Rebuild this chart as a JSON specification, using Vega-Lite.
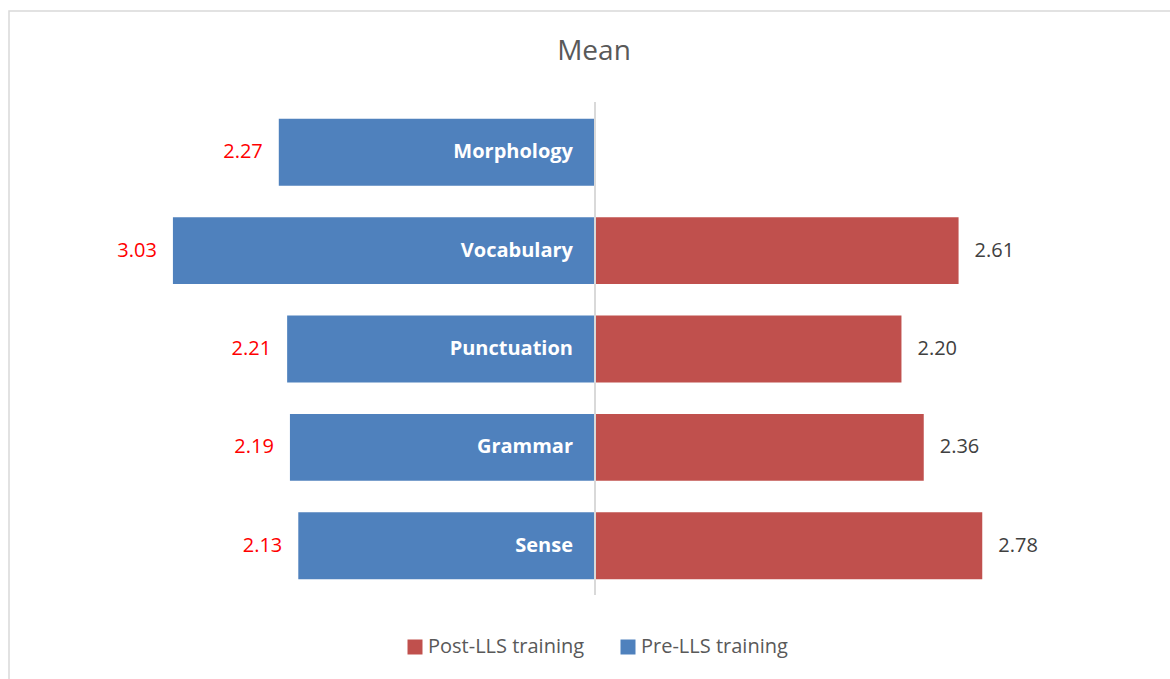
{
  "$schema": "https://vega.github.io/schema/vega-lite/v6.json",
  "autosize": {"type": "none"},
  "width": 1170,
  "height": 680,
  "padding": {"left": 9, "top": 11, "right": 0, "bottom": 0},
  "background": "white",
  "config": {
    "view": {"stroke": "#D9D9D9", "strokeWidth": 1.5},
    "font": "Open Sans"
  },
  "title": {
    "text": "Mean",
    "font": "Open Sans",
    "fontSize": 28,
    "fontWeight": "normal",
    "color": "#595959",
    "anchor": "middle",
    "offset": 0,
    "dy": 55
  },
  "data": {
    "values": [
      {"aspect": "Morphology", "series": "Pre-LLS training", "mean": 2.27},
      {"aspect": "Vocabulary", "series": "Pre-LLS training", "mean": 3.03},
      {"aspect": "Punctuation", "series": "Pre-LLS training", "mean": 2.21},
      {"aspect": "Grammar", "series": "Pre-LLS training", "mean": 2.19},
      {"aspect": "Sense", "series": "Pre-LLS training", "mean": 2.13},
      {"aspect": "Vocabulary", "series": "Post-LLS training", "mean": 2.61},
      {"aspect": "Punctuation", "series": "Post-LLS training", "mean": 2.20},
      {"aspect": "Grammar", "series": "Post-LLS training", "mean": 2.36},
      {"aspect": "Sense", "series": "Post-LLS training", "mean": 2.78}
    ]
  },
  "layer": [
    {
      "transform": [{"filter": "datum.series === 'Pre-LLS training'"}],
      "encoding": {
        "y": {
          "field": "aspect",
          "type": "nominal",
          "axis": null,
          "scale": {
            "domain": ["Morphology", "Vocabulary", "Punctuation", "Grammar", "Sense"],
            "range": [92, 584],
            "paddingInner": 0.32,
            "paddingOuter": 0.16
          }
        }
      },
      "layer": [
        {
          "mark": {"type": "bar"},
          "encoding": {
            "x": {"field": "mean", "type": "quantitative", "axis": null,
                  "scale": {"domain": [0, 4], "range": [586, 28.8], "zero": true, "nice": false}},
            "color": {
              "field": "series",
              "type": "nominal",
              "scale": {"domain": ["Post-LLS training", "Pre-LLS training"], "range": ["#C0504D", "#4F81BD"]},
              "legend": {
                "title": null,
                "orient": "none",
                "direction": "horizontal",
                "legendX": 396,
                "legendY": 626,
                "padding": 0,
                "symbolType": "square",
                "symbolSize": 225,
                "symbolStrokeWidth": 0,
                "labelFont": "Open Sans",
                "labelFontSize": 20,
                "labelColor": "#595959",
                "labelOffset": 3,
                "columnPadding": 33,
                "labelLimit": 300
              }
            }
          }
        },
        {
          "mark": {"type": "text", "align": "right", "baseline": "middle", "dx": -16, "font": "Open Sans", "fontSize": 20, "color": "#FF0000"},
          "encoding": {
            "x": {"field": "mean", "type": "quantitative"},
            "text": {"field": "mean", "type": "quantitative", "format": ".2f"}
          }
        },
        {
          "mark": {"type": "text", "align": "right", "baseline": "middle", "dx": -22, "font": "Open Sans", "fontSize": 20, "fontWeight": "bold", "color": "white"},
          "encoding": {
            "x": {"datum": 0, "type": "quantitative"},
            "text": {"field": "aspect", "type": "nominal"}
          }
        }
      ]
    },
    {
      "transform": [{"filter": "datum.series === 'Post-LLS training'"}],
      "encoding": {
        "y": {
          "field": "aspect",
          "type": "nominal",
          "axis": null,
          "scale": {
            "domain": ["Morphology", "Vocabulary", "Punctuation", "Grammar", "Sense"],
            "range": [92, 584],
            "paddingInner": 0.32,
            "paddingOuter": 0.16
          }
        }
      },
      "layer": [
        {
          "mark": {"type": "bar"},
          "encoding": {
            "x": {"field": "mean", "type": "quantitative", "axis": null,
                  "scale": {"domain": [0, 4], "range": [586, 1143.2], "zero": true, "nice": false}},
            "color": {"field": "series", "type": "nominal"}
          }
        },
        {
          "mark": {"type": "text", "align": "left", "baseline": "middle", "dx": 16, "font": "Open Sans", "fontSize": 20, "color": "#404040"},
          "encoding": {
            "x": {"field": "mean", "type": "quantitative"},
            "text": {"field": "mean", "type": "quantitative", "format": ".2f"}
          }
        }
      ]
    },
    {
      "data": {"values": [{"edge": "centre"}]},
      "mark": {"type": "rule", "color": "#D9D9D9", "strokeWidth": 2},
      "encoding": {
        "x": {"datum": 0, "type": "quantitative", "axis": null,
              "scale": {"domain": [0, 4], "range": [586, 1143.2], "nice": false}},
        "y": {"datum": 0, "type": "quantitative", "axis": null,
              "scale": {"domain": [0, 1], "range": [91, 584], "nice": false}},
        "y2": {"datum": 1}
      }
    }
  ],
  "resolve": {"scale": {"x": "independent", "y": "independent", "color": "shared"}}
}
